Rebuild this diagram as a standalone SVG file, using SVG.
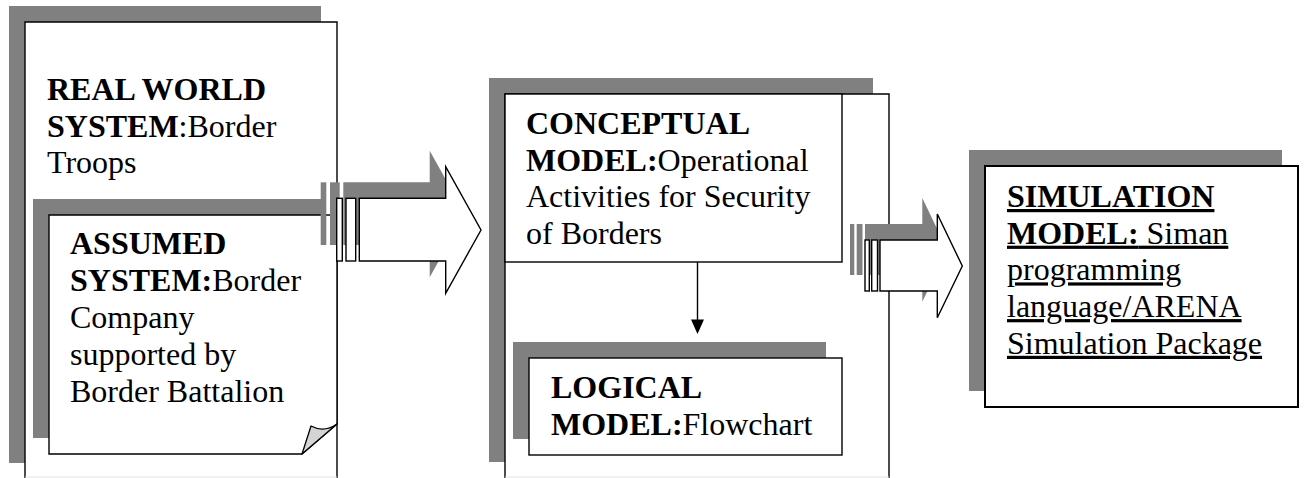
<svg xmlns="http://www.w3.org/2000/svg" width="1306" height="478" viewBox="0 0 1306 478">
  <style>
    .shadow { fill: #808080; stroke: none; }
    .box { fill: #ffffff; stroke: #000000; stroke-width: 1.4; }
    .open { fill: #ffffff; stroke: none; }
    .edge { fill: none; stroke: #000000; stroke-width: 1.4; }
    .cut { fill: none; stroke: #e4e4e4; stroke-width: 1.2; }
    .fold { fill: #d4d4d4; stroke: #000000; stroke-width: 1.3; stroke-linejoin: round; }
    .t { font-family: "Liberation Serif", "Times New Roman", serif; font-size: 32px; fill: #000000; }
    .b { font-weight: bold; }
    .u { text-decoration: underline; }
    .arrow { fill: #ffffff; stroke: #000000; stroke-width: 1.4; stroke-linejoin: miter; }
    .line { stroke: #000000; stroke-width: 1.4; fill: none; }
    .head { fill: #000000; stroke: none; }
  </style>

  <!-- Real world system panel -->
  <g id="real-world">
    <rect class="shadow" x="9" y="6" width="312" height="457"/>
    <rect class="open" x="25" y="22" width="312" height="456"/>
    <path class="edge" d="M25,478 V22 H337 V478"/>
    <line class="cut" x1="25" y1="477" x2="337" y2="477"/>
    <text class="t" x="47" y="100"><tspan class="b">REAL WORLD</tspan></text>
    <text class="t" x="47" y="136.7"><tspan class="b">SYSTEM</tspan>:Border</text>
    <text class="t" x="47" y="173.4">Troops</text>
  </g>

  <!-- Assumed system note with folded corner -->
  <g id="assumed">
    <rect class="shadow" x="33" y="199" width="288" height="239"/>
    <path class="box" d="M49,215 H337 V424 L302,454 H49 Z"/>
    <path class="fold" d="M302,454 L311,426 Q324,433 337,424 Z"/>
    <text class="t" x="70" y="254"><tspan class="b">ASSUMED</tspan></text>
    <text class="t" x="70" y="290.9"><tspan class="b">SYSTEM:</tspan>Border</text>
    <text class="t" x="70" y="327.8">Company</text>
    <text class="t" x="70" y="364.7">supported by</text>
    <text class="t" x="70" y="401.6">Border Battalion</text>
  </g>

  <!-- Conceptual model panel -->
  <g id="conceptual">
    <rect class="shadow" x="489" y="78" width="384" height="384"/>
    <rect class="open" x="505" y="94" width="384" height="384"/>
    <path class="edge" d="M505,478 V94 H889 V478"/>
    <line class="cut" x1="505" y1="477" x2="889" y2="477"/>
    <rect class="box" x="505" y="94" width="337" height="168"/>
    <text class="t" x="526" y="134"><tspan class="b">CONCEPTUAL</tspan></text>
    <text class="t" x="526" y="170.5"><tspan class="b">MODEL:</tspan>Operational</text>
    <text class="t" x="526" y="207">Activities for Security</text>
    <text class="t" x="526" y="243.5">of Borders</text>
  </g>

  <!-- Logical model -->
  <g id="logical">
    <rect class="shadow" x="513" y="342" width="313" height="97"/>
    <rect class="box" x="529" y="358" width="313" height="97"/>
    <text class="t" x="551" y="398"><tspan class="b">LOGICAL</tspan></text>
    <text class="t" x="551" y="435"><tspan class="b">MODEL:</tspan>Flowchart</text>
  </g>

  <!-- Simulation model -->
  <g id="simulation">
    <rect class="shadow" x="969" y="150" width="313" height="241"/>
    <rect class="box" x="985" y="166" width="313" height="241" style="stroke-width:2"/>
    <text class="t u" x="1007" y="207"><tspan class="b">SIMULATION</tspan></text>
    <text class="t u" x="1007" y="243.7"><tspan class="b">MODEL:</tspan> Siman</text>
    <text class="t u" x="1007" y="280.4">programming</text>
    <text class="t u" x="1007" y="317.1">language/ARENA</text>
    <text class="t u" x="1007" y="353.8">Simulation Package</text>
  </g>

  <!-- Connectors -->
  <g id="connectors">
    <!-- striped block arrow: real world -> conceptual -->
    <g transform="translate(-16,-16)" class="shadow">
      <rect x="336.7" y="198.3" width="5.6" height="62.7"/>
      <rect x="346" y="198.3" width="9.7" height="62.7"/>
      <polygon points="359.3,198.3 445.7,198.3 445.7,166.7 481,230 445.7,293.3 445.7,261 359.3,261"/>
    </g>
    <rect class="arrow" x="336.7" y="198.3" width="5.6" height="62.7"/>
    <rect class="arrow" x="346" y="198.3" width="9.7" height="62.7"/>
    <polygon class="arrow" points="359.3,198.3 445.7,198.3 445.7,166.7 481,230 445.7,293.3 445.7,261 359.3,261"/>

    <!-- conceptual -> logical -->
    <line class="line" x1="697.5" y1="262" x2="697.5" y2="321"/>
    <polygon class="head" points="691,319.5 704,319.5 697.5,334"/>

    <!-- striped block arrow: conceptual -> simulation -->
    <g transform="translate(-15,-16)" class="shadow">
      <rect x="865" y="240" width="4.3" height="51"/>
      <rect x="871.7" y="240" width="5.8" height="51"/>
      <polygon points="880,240 937.3,240 937.3,214 962.3,266 937.3,317.7 937.3,291 880,291"/>
    </g>
    <rect class="arrow" x="865" y="240" width="4.3" height="51"/>
    <rect class="arrow" x="871.7" y="240" width="5.8" height="51"/>
    <polygon class="arrow" points="880,240 937.3,240 937.3,214 962.3,266 937.3,317.7 937.3,291 880,291"/>
  </g>
</svg>
